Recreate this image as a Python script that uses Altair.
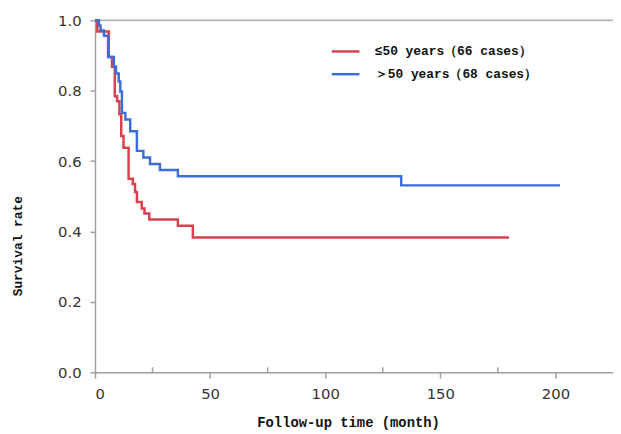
import altair as alt
import pandas as pd

# ≤50 years group (red)
red_label = "≤50 years（66 cases）"
red_time = [0, 1, 6, 7.4, 8.6, 9.6, 10.6, 11.4, 12.4, 14.6, 16.4, 17.4, 18.2, 20.3, 21.5, 23.6, 36, 42.5, 179.8]
red_surv = [1.0, 0.968, 0.896, 0.868, 0.784, 0.77, 0.733, 0.671, 0.638, 0.55, 0.535, 0.512, 0.484, 0.465, 0.451, 0.434, 0.416, 0.383, 0.383]

# >50 years group (blue)
blue_label = "＞50 years（68 cases）"
blue_time = [0, 1.7, 2.4, 3.9, 5.7, 8.2, 9.1, 10.3, 11, 11.7, 13.2, 15.3, 18.2, 21, 23.9, 28.2, 36, 133, 202]
blue_surv = [1.0, 0.985, 0.971, 0.956, 0.896, 0.868, 0.849, 0.826, 0.798, 0.737, 0.718, 0.685, 0.629, 0.610, 0.592, 0.575, 0.557, 0.531, 0.531]

x_major = [0, 50, 100, 150, 200]
x_minor = [25, 75, 125, 175]
y_ticks = [0.0, 0.1, 0.2, 0.3, 0.4, 0.5, 0.6, 0.7, 0.8, 0.9, 1.0]

RED = "#d8404e"
BLUE = "#3d6dd8"
W, H = 524, 356
SERIF = "Liberation Mono"

df = pd.concat([
    pd.DataFrame({"t": red_time, "s": red_surv, "g": red_label, "o": range(len(red_time))}),
    pd.DataFrame({"t": blue_time, "s": blue_surv, "g": blue_label, "o": range(len(blue_time))}),
])

xs = alt.Scale(domain=[0, 225], nice=False, zero=False)
ys = alt.Scale(domain=[0, 1.0], nice=False)

lines = alt.Chart(df).mark_line(interpolate="step-after", strokeWidth=2.5).encode(
    x=alt.X("t:Q", scale=xs, axis=alt.Axis(
        values=x_major, title="Follow-up time (month)", format="d",
        titleFont=SERIF, titleFontSize=14, titleFontWeight="bold", titleColor="#111",
        titleY=51, titleBaseline="middle", titleX=256,
        labelFont="DejaVu Sans", labelFontSize=15, labelColor="#333", labelPadding=9,
        domainColor="#a0a0a0", domainWidth=1.5, tickColor="#a0a0a0", tickWidth=1.5, tickSize=6,
        grid=False)),
    y=alt.Y("s:Q", scale=ys, axis=alt.Axis(
        values=y_ticks, title="Survival rate",
        labelExpr="round(datum.value*10) % 2 == 0 ? format(datum.value, '.1f') : ''",
        titleFont=SERIF, titleFontSize=13, titleFontWeight="bold", titleColor="#111",
        titleX=-78, titleY=228, titleBaseline="middle", titleAngle=270,
        labelFont="DejaVu Sans", labelFontSize=15, labelColor="#333", labelPadding=9,
        domainColor="#a0a0a0", domainWidth=1.5, tickColor="#a0a0a0", tickWidth=1.5, tickSize=5,
        grid=False)),
    color=alt.Color("g:N", scale=alt.Scale(domain=[red_label, blue_label], range=[RED, BLUE]),
                    legend=alt.Legend(title=None, orient="none", legendX=238, legendY=16,
                                      symbolType="stroke", symbolSize=784, symbolStrokeWidth=2.5,
                                      labelFont=SERIF, labelFontSize=13, labelFontWeight="bold",
                                      labelColor="#111", rowPadding=-6, labelOffset=14,
                                      labelLimit=400)),
    order="o:Q",
)

top_df = pd.DataFrame({"y": [1.0]})
top = alt.Chart(top_df).mark_rule(color="#b0b0b0", strokeWidth=1.5).encode(
    y=alt.Y("y:Q", scale=ys), x=alt.value(0), x2=alt.value(W))

minor_df = pd.DataFrame({"t": x_minor})
minor = alt.Chart(minor_df).mark_rule(color="#a0a0a0", strokeWidth=1.5).encode(
    x=alt.X("t:Q", scale=xs), y=alt.value(H), y2=alt.value(H - 5))

chart = alt.layer(top, minor, lines).properties(
    width=W, height=H,
    autosize=alt.AutoSizeParams(type="none"),
    padding={"left": 88, "top": 10, "right": 0, "bottom": 60},
).configure_view(stroke=None).configure(background="white")

chart.save("out.html", embed_options={"renderer": "svg", "actions": False})
